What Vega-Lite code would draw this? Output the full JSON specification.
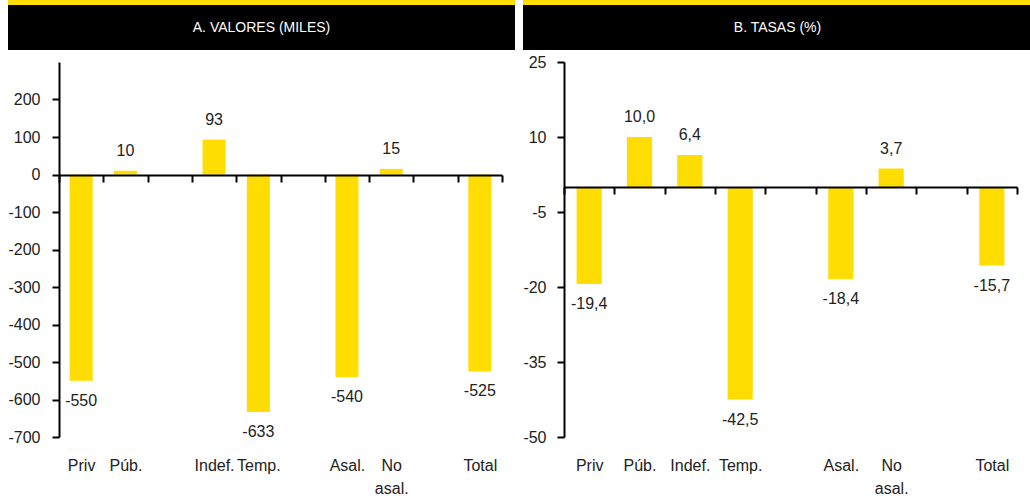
{
  "$schema": "https://vega.github.io/schema/vega-lite/v6.json",
  "padding": {"left": 7, "top": 0, "right": 0, "bottom": 0},
  "columns": 2,
  "spacing": {"row": 4, "column": 7},
  "config": {
    "font": "Liberation Sans",
    "view": {"stroke": null},
    "locale": {"number": {"decimal": ",", "thousands": ".", "grouping": [3], "currency": ["", " €"], "minus": "-"}},
    "axis": {"domainColor": "#000", "domainWidth": 2, "tickColor": "#000", "tickWidth": 2, "labelFont": "Liberation Sans", "labelFontSize": 16, "labelColor": "#222", "grid": false, "title": null},
    "text": {"font": "Liberation Sans", "fontSize": 16, "color": "#222"}
  },
  "concat": [
    {
      "spacing": 0,
      "vconcat": [
        {"width": 507, "height": 5, "view": {"fill": "#FFDD00", "stroke": null}, "data": {"values": [{}]}, "mark": {"type": "rect", "color": "#FFDD00"}, "encoding": {}},
        {"width": 507, "height": 45, "view": {"fill": "#000", "stroke": null}, "data": {"values": [{"t": "A. VALORES (MILES)"}]}, "mark": {"type": "text", "color": "#fff", "fontSize": 14, "baseline": "middle", "align": "center"},
          "encoding": {"text": {"field": "t"}}}
      ]
    },
    {
      "spacing": 0,
      "vconcat": [
        {"width": 509, "height": 5, "view": {"fill": "#FFDD00", "stroke": null}, "data": {"values": [{}]}, "mark": {"type": "rect", "color": "#FFDD00"}, "encoding": {}},
        {"width": 509, "height": 45, "view": {"fill": "#000", "stroke": null}, "data": {"values": [{"t": "B. TASAS (%)"}]}, "mark": {"type": "text", "color": "#fff", "fontSize": 14, "baseline": "middle", "align": "center"},
          "encoding": {"text": {"field": "t"}}}
      ]
    },
    {
      "width": 507,
      "height": 375,
      "data": {"values": [
        {"cat": "Priv", "v": -550},
        {"cat": "Púb.", "v": 10},
        {"cat": "Indef.", "v": 93},
        {"cat": "Temp.", "v": -633},
        {"cat": "Asal.", "v": -540},
        {"cat": "No asal.", "v": 15},
        {"cat": "Total", "v": -525}
      ]},
      "encoding": {
        "x": {"field": "cat", "type": "nominal", "scale": {"domain": ["Priv", "Púb.", " ", "Indef.", "Temp.", "  ", "Asal.", "No asal.", "   ", "Total"], "range": [51, 494], "paddingInner": 0, "paddingOuter": 0},
          "axis": {"orient": "bottom", "offset": -262, "zindex": 1, "tickBand": "extent", "tickSize": 7, "labelPadding": 275, "labelAngle": 0, "labelOverlap": false, "labelLineHeight": 23, "labelExpr": "datum.value == 'No asal.' ? ['No', 'asal.'] : datum.value"}}
      },
      "layer": [
        {"mark": {"type": "bar", "color": "#FFDD00", "width": {"band": 0.52}},
          "encoding": {"y": {"field": "v", "type": "quantitative", "scale": {"domain": [-700, 300], "nice": false}, "axis": {"values": [-700, -600, -500, -400, -300, -200, -100, 0, 100, 200], "offset": -51, "tickSize": 7, "labelPadding": 12}}}},
        {"transform": [{"filter": "datum.v >= 0"}], "mark": {"type": "text", "baseline": "middle", "dy": -20},
          "encoding": {"y": {"field": "v", "type": "quantitative"}, "text": {"field": "v", "type": "quantitative", "format": "d"}}},
        {"transform": [{"filter": "datum.v < 0"}], "mark": {"type": "text", "baseline": "middle", "dy": 20},
          "encoding": {"y": {"field": "v", "type": "quantitative"}, "text": {"field": "v", "type": "quantitative", "format": "d"}}}
      ]
    },
    {
      "width": 509,
      "height": 375,
      "data": {"values": [
        {"cat": "Priv", "v": -19.4},
        {"cat": "Púb.", "v": 10.0},
        {"cat": "Indef.", "v": 6.4},
        {"cat": "Temp.", "v": -42.5},
        {"cat": "Asal.", "v": -18.4},
        {"cat": "No asal.", "v": 3.7},
        {"cat": "Total", "v": -15.7}
      ]},
      "encoding": {
        "x": {"field": "cat", "type": "nominal", "scale": {"domain": ["Priv", "Púb.", "Indef.", "Temp.", " ", "Asal.", "No asal.", "  ", "Total"], "range": [41, 494], "paddingInner": 0, "paddingOuter": 0},
          "axis": {"orient": "bottom", "offset": -250, "zindex": 1, "tickBand": "extent", "tickSize": 7, "labelPadding": 263, "labelAngle": 0, "labelOverlap": false, "labelLineHeight": 23, "labelExpr": "datum.value == 'No asal.' ? ['No', 'asal.'] : datum.value"}}
      },
      "layer": [
        {"mark": {"type": "bar", "color": "#FFDD00", "width": {"band": 0.5}},
          "encoding": {"y": {"field": "v", "type": "quantitative", "scale": {"domain": [-50, 25], "nice": false}, "axis": {"values": [-50, -35, -20, -5, 10, 25], "offset": -41, "tickSize": 7, "labelPadding": 11}}}},
        {"transform": [{"filter": "datum.v >= 0"}], "mark": {"type": "text", "baseline": "middle", "dy": -20},
          "encoding": {"y": {"field": "v", "type": "quantitative"}, "text": {"field": "v", "type": "quantitative", "format": ".1f"}}},
        {"transform": [{"filter": "datum.v < 0"}], "mark": {"type": "text", "baseline": "middle", "dy": 20},
          "encoding": {"y": {"field": "v", "type": "quantitative"}, "text": {"field": "v", "type": "quantitative", "format": ".1f"}}}
      ]
    }
  ]
}
